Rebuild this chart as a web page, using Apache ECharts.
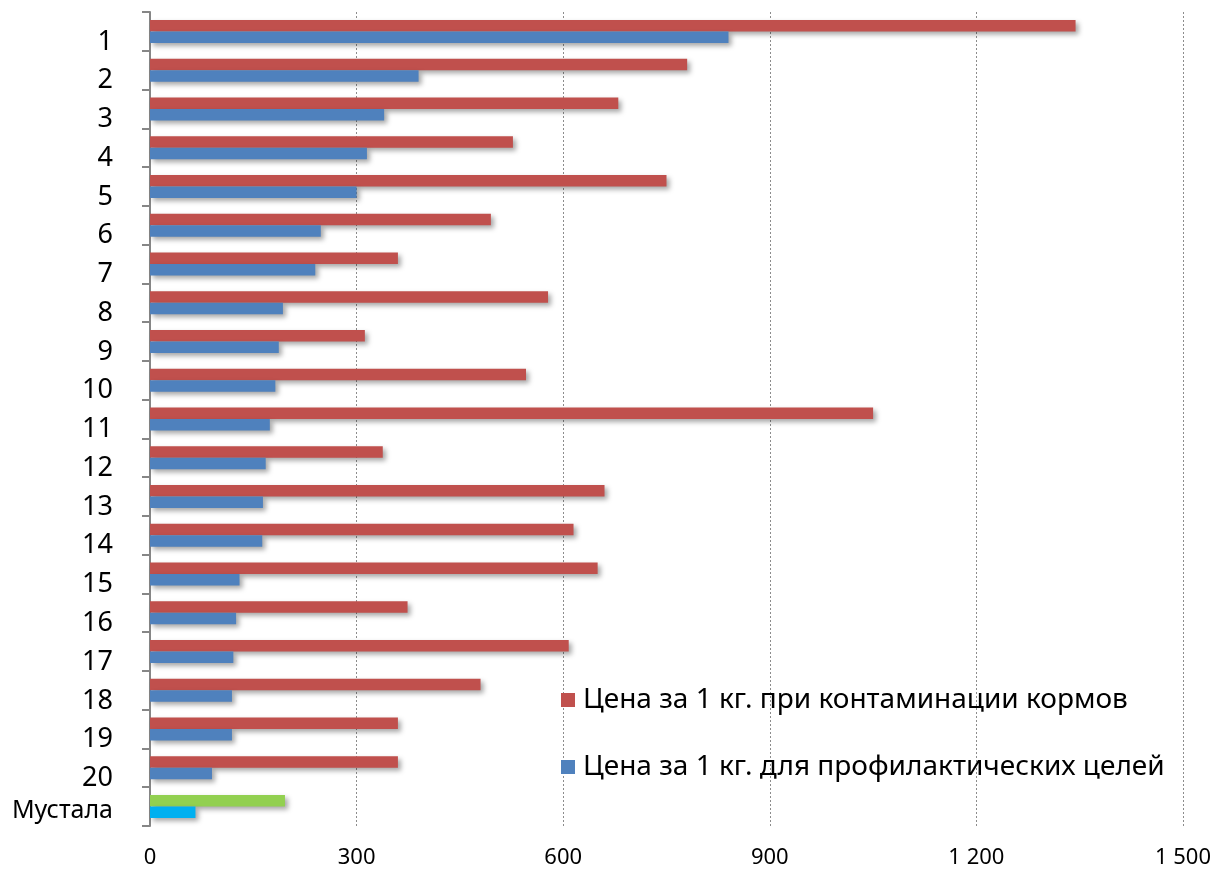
<!DOCTYPE html>
<html><head><meta charset="utf-8">
<script src="https://cdn.jsdelivr.net/npm/echarts@6/dist/echarts.min.js"></script>
<style>html,body{margin:0;padding:0;background:#fff}#c{width:1217px;height:875px}</style>
</head><body><div id="c"></div>
<script>
const categories = ['1','2','3','4','5','6','7','8','9','10','11','12','13','14','15','16','17','18','19','20','Мустала'];
const contamination = [1344,780,680,527,750,495,360,578,312,546,1050,338,660,615,650,374,608,480,360,360,196];
const prevention = [840,390,340,315,300,248,240,193,187,182,174,168,164,163,130,125,121,119,119,90,66];
const xTicks = [0,300,600,900,1200,1500];
const seriesNames = ['Цена за 1 кг. при контаминации кормов','Цена за 1 кг. для профилактических целей'];

const FONT = 'Noto Sans';
const shadow = {shadowBlur:5, shadowOffsetX:3, shadowOffsetY:3, shadowColor:'rgba(0,0,0,0.35)'};
const last = categories.length - 1;
function withSpecial(arr, color){
  return arr.map((v,i)=> i===last ? {value:v, itemStyle:Object.assign({color:color}, shadow)} : v);
}
const chart = echarts.init(document.getElementById('c'));
chart.setOption({
  animation:false,
  backgroundColor:'#fff',
  grid:{left:150,right:34,top:12,bottom:49,containLabel:false},
  legend:{
    orient:'vertical', left:556, top:681, itemGap:39,
    itemWidth:14, itemHeight:14, icon:'rect',
    textStyle:{fontFamily:FONT, fontSize:28, color:'#000', padding:[0,0,0,3]},
    data:seriesNames
  },
  xAxis:{
    type:'value', min:xTicks[0], max:xTicks[xTicks.length-1], interval:300,
    axisLine:{show:false}, axisTick:{show:false},
    axisLabel:{fontFamily:FONT, fontSize:22, color:'#000', margin:21,
      formatter:v=>String(v).replace(/\B(?=(\d{3})+(?!\d))/g,' ')},
    splitLine:{show:true, lineStyle:{type:[2,2], color:'#8c8c8c', width:1}}
  },
  yAxis:{
    type:'category', inverse:true, data:categories,
    axisLine:{show:true, lineStyle:{color:'#868686', width:2}},
    axisTick:{show:true, length:8, lineStyle:{color:'#868686', width:2}},
    axisLabel:{margin:37, color:'#000',
      formatter:(v)=> v==='Мустала' ? '{m|'+v+'}' : '{n|'+v+'}',
      rich:{
        n:{fontFamily:FONT, fontSize:27, color:'#000', padding:[21,0,0,0]},
        m:{fontFamily:FONT, fontSize:25, color:'#000', padding:[8,0,0,0]}
      }
    },
    splitLine:{show:false}
  },
  series:[
    {name:seriesNames[0], type:'bar', data:withSpecial(contamination,'#92D050'),
      barWidth:11.5, barGap:'0%', itemStyle:Object.assign({color:'#C0504D'}, shadow)},
    {name:seriesNames[1], type:'bar', data:withSpecial(prevention,'#00B0F0'),
      barWidth:11.5, barGap:'0%', itemStyle:Object.assign({color:'#4F81BD'}, shadow)}
  ]
});
</script></body></html>
